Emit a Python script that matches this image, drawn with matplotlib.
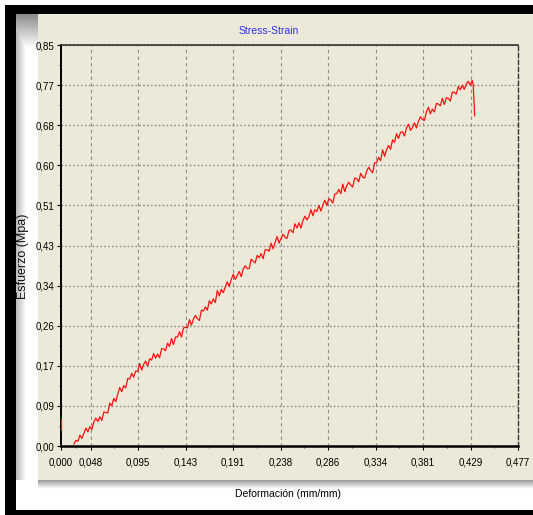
import numpy as np
import matplotlib
matplotlib.use("Agg")
import matplotlib.pyplot as plt
from matplotlib.patches import Rectangle

W, H = 533, 515

# curva esfuerzo-deformacion del ensayo
deformacion = [
    0.031, 0.033, 0.035, 0.037, 0.039, 0.041, 0.043, 0.045, 0.047, 0.049,
    0.051, 0.053, 0.055, 0.057, 0.059, 0.061, 0.063, 0.065, 0.067, 0.069,
    0.071, 0.073, 0.075, 0.077, 0.079, 0.081, 0.083, 0.085, 0.087, 0.089,
    0.091, 0.093, 0.095, 0.097, 0.099, 0.101, 0.103, 0.105, 0.107, 0.109,
    0.111, 0.113, 0.115, 0.117, 0.119, 0.121, 0.123, 0.125, 0.127, 0.129,
    0.131, 0.133, 0.135, 0.137, 0.139, 0.141, 0.143, 0.145, 0.147, 0.149,
    0.151, 0.153, 0.155, 0.157, 0.159, 0.161, 0.163, 0.165, 0.167, 0.169,
    0.171, 0.173, 0.175, 0.177, 0.179, 0.181, 0.183, 0.185, 0.187, 0.189,
    0.191, 0.193, 0.195, 0.197, 0.199, 0.201, 0.203, 0.205, 0.207, 0.209,
    0.211, 0.213, 0.215, 0.217, 0.219, 0.221, 0.223, 0.225, 0.227, 0.229,
    0.231, 0.233, 0.235, 0.237, 0.239, 0.241, 0.243, 0.245, 0.247, 0.249,
    0.251, 0.253, 0.255, 0.257, 0.259, 0.261, 0.263, 0.265, 0.267, 0.269,
    0.271, 0.273, 0.275, 0.277, 0.279, 0.281, 0.283, 0.285, 0.287, 0.289,
    0.291, 0.293, 0.295, 0.297, 0.299, 0.301, 0.303, 0.305, 0.307, 0.309,
    0.311, 0.313, 0.315, 0.317, 0.319, 0.321, 0.323, 0.325, 0.327, 0.329,
    0.331, 0.333, 0.335, 0.337, 0.339, 0.341, 0.343, 0.345, 0.347, 0.349,
    0.351, 0.353, 0.355, 0.357, 0.359, 0.361, 0.363, 0.365, 0.367, 0.369,
    0.371, 0.373, 0.375, 0.377, 0.379, 0.381, 0.383, 0.385, 0.387, 0.389,
    0.391, 0.393, 0.395, 0.397, 0.399, 0.401, 0.403, 0.405, 0.407, 0.409,
    0.411, 0.413, 0.415, 0.417, 0.419, 0.421, 0.423, 0.425, 0.427, 0.429,
    0.431, 0.432, 0.4335,
]
esfuerzo = [
    0.004, 0.012, 0.010, 0.023, 0.016, 0.027, 0.038, 0.030, 0.041, 0.035,
    0.051, 0.059, 0.052, 0.062, 0.054, 0.072, 0.071, 0.070, 0.091, 0.085,
    0.101, 0.094, 0.110, 0.124, 0.115, 0.128, 0.123, 0.143, 0.142, 0.154,
    0.146, 0.159, 0.158, 0.175, 0.161, 0.173, 0.180, 0.169, 0.185, 0.182,
    0.196, 0.186, 0.195, 0.187, 0.206, 0.206, 0.202, 0.218, 0.211, 0.228,
    0.215, 0.231, 0.231, 0.242, 0.231, 0.250, 0.252, 0.250, 0.268, 0.256,
    0.269, 0.277, 0.270, 0.266, 0.288, 0.286, 0.295, 0.288, 0.308, 0.301,
    0.312, 0.304, 0.330, 0.318, 0.332, 0.325, 0.337, 0.348, 0.338, 0.353,
    0.364, 0.353, 0.361, 0.370, 0.359, 0.375, 0.382, 0.376, 0.376, 0.396,
    0.392, 0.388, 0.404, 0.399, 0.408, 0.397, 0.416, 0.416, 0.413, 0.430,
    0.418, 0.431, 0.444, 0.430, 0.440, 0.449, 0.442, 0.440, 0.457, 0.458,
    0.452, 0.471, 0.462, 0.473, 0.462, 0.478, 0.487, 0.479, 0.486, 0.501,
    0.488, 0.501, 0.497, 0.510, 0.498, 0.511, 0.521, 0.510, 0.524, 0.521,
    0.515, 0.534, 0.535, 0.544, 0.535, 0.555, 0.539, 0.552, 0.559, 0.553,
    0.549, 0.568, 0.567, 0.560, 0.578, 0.570, 0.568, 0.583, 0.591, 0.584,
    0.579, 0.600, 0.601, 0.612, 0.605, 0.628, 0.614, 0.628, 0.637, 0.629,
    0.649, 0.644, 0.662, 0.652, 0.665, 0.666, 0.657, 0.674, 0.682, 0.669,
    0.675, 0.685, 0.674, 0.688, 0.698, 0.692, 0.690, 0.708, 0.718, 0.704,
    0.714, 0.708, 0.726, 0.725, 0.721, 0.737, 0.724, 0.738, 0.737, 0.731,
    0.750, 0.750, 0.746, 0.762, 0.755, 0.765, 0.756, 0.767, 0.773, 0.765,
    0.775, 0.766, 0.700,
]
# tramo suelto al inicio del registro
pre_def = [0.0180, 0.0180]
pre_esf = [0.057, 0.034]

x_ticks = [0.0177, 0.0477, 0.0954, 0.1431, 0.1908, 0.2385,
           0.2862, 0.3339, 0.3816, 0.4293, 0.477]
x_labels = ["0,000", "0,048", "0,095", "0,143", "0,191", "0,238",
            "0,286", "0,334", "0,381", "0,429", "0,477"]
y_ticks = [0.0, 0.085, 0.17, 0.255, 0.34, 0.425, 0.51, 0.595, 0.68, 0.765, 0.85]
y_labels = ["0,00", "0,09", "0,17", "0,26", "0,34", "0,43",
            "0,51", "0,60", "0,68", "0,77", "0,85"]

BEIGE = "#ECE9D8"
NARROW = ["Liberation Sans Narrow", "Liberation Sans", "DejaVu Sans"]


def caja(x0, y0, x1, y1):
    # pixeles (origen arriba-izquierda) -> fraccion de figura
    return [x0 / W, 1 - y1 / H, (x1 - x0) / W, (y1 - y0) / H]


fig = plt.figure(figsize=(W / 100, H / 100), dpi=100, facecolor="white")

# sombras alrededor del panel
sh = fig.add_axes(caja(16, 14, 38, 480))
sh.axis("off")
gx = np.linspace(0, 1, 60)[None, :]
gy = np.linspace(0, 1, 300)[:, None]
sombra = np.minimum(0.72 + 0.28 * np.clip(gx * 2.2, 0, 1), 0.55 + 0.45 * np.clip(gy * 14, 0, 1))
sh.imshow(sombra, cmap="gray", vmin=0, vmax=1, aspect="auto", extent=[0, 1, 0, 1], origin="upper")

sb = fig.add_axes(caja(38, 480, 533, 494))
sb.axis("off")
gb = np.linspace(0, 1, 40)[:, None] * np.ones((1, 10))
sb.imshow(0.6 + 0.4 * np.clip(gb * 1.6, 0, 1), cmap="gray", vmin=0, vmax=1,
          aspect="auto", extent=[0, 1, 0, 1], origin="upper")

# panel beige y marco negro
p = caja(38, 14, 533, 480)
fig.add_artist(Rectangle(p[:2], p[2], p[3], transform=fig.transFigure,
                         facecolor=BEIGE, edgecolor="none", zorder=-1))
for b in [caja(5, 5, 533, 14), caja(5, 5, 16, 515), caja(5, 510, 533, 515)]:
    fig.add_artist(Rectangle(b[:2], b[2], b[3], transform=fig.transFigure,
                             facecolor="black", edgecolor="none", zorder=3))

ax = fig.add_axes(caja(60.7, 45, 518, 446))
ax.set_zorder(2)
ax.set_facecolor(BEIGE)
ax.plot(deformacion, esfuerzo, color="#ff1010", lw=0.9, zorder=3)
ax.plot(pre_def, pre_esf, color="#ff1010", lw=0.9, zorder=3)

ax.set_xlim(x_ticks[0], x_ticks[-1])
ax.set_ylim(y_ticks[0], y_ticks[-1])
ax.set_xticks(x_ticks)
ax.set_xticklabels(x_labels, family=NARROW, fontsize=7)
ax.set_yticks(y_ticks)
ax.set_yticklabels(y_labels, family=NARROW, fontsize=7)
ax.set_xticks([(a + b) / 2 for a, b in zip(x_ticks[:-1], x_ticks[1:])], minor=True)
ax.set_yticks([(a + b) / 2 for a, b in zip(y_ticks[:-1], y_ticks[1:])], minor=True)
ax.tick_params(axis="x", which="major", length=3, width=0.8, pad=5, colors="black")
ax.tick_params(axis="y", which="major", length=3, width=0.8, pad=1.5, colors="black")
ax.tick_params(which="minor", length=1.5, width=0.7, color="#444444")

ax.xaxis.grid(True, which="major", linestyle=(0, (3, 3)), color="#8c8c8c", lw=0.8)
ax.yaxis.grid(True, which="major", linestyle=(0, (1.2, 1.6)), color="#8c8c8c", lw=1.0)
ax.set_axisbelow(True)

ax.spines["left"].set_linewidth(1.4)
ax.spines["bottom"].set_linewidth(1.8)
ax.spines["top"].set_linestyle((0, (1, 1)))
ax.spines["top"].set_color("#333333")
ax.spines["top"].set_linewidth(1.2)
ax.spines["right"].set_linestyle((0, (3, 2)))
ax.spines["right"].set_color("#333333")
ax.spines["right"].set_linewidth(1.0)

fig.text(269 / W, 1 - 31 / H, "Stress-Strain", color="#2f2ff0", family=NARROW,
         fontsize=7.5, ha="center", va="center")
fig.text(288 / W, 1 - 494 / H, "Deformación (mm/mm)", color="black", family=NARROW,
         fontsize=7.5, ha="center", va="center")
fig.text(23 / W, 1 - 256 / H, "Esfuerzo (Mpa)", color="#111111",
         family=["Liberation Sans", "DejaVu Sans"], fontsize=9, rotation=90,
         ha="center", va="center")

fig.savefig("out.png", dpi=100, facecolor="white")
